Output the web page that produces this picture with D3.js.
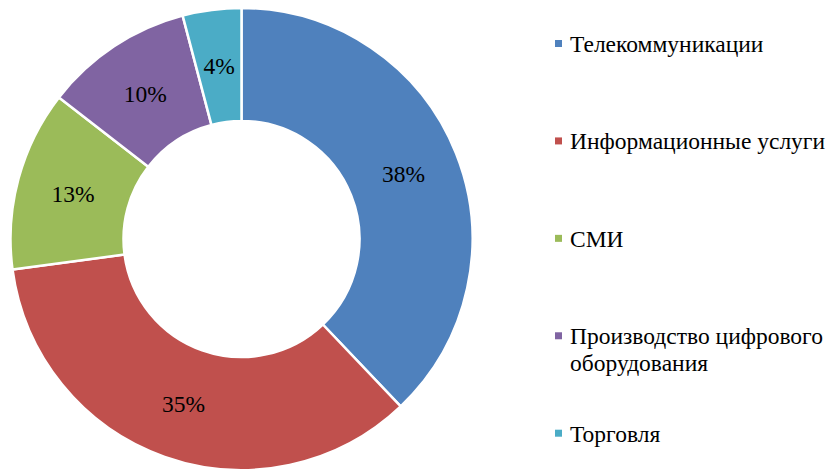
<!DOCTYPE html>
<html><head><meta charset="utf-8">
<script src="https://cdn.jsdelivr.net/npm/d3@7"></script>
</head><body style="margin:0;background:#fff">
<svg id="chart" width="832" height="470" style="display:block"></svg>
<script>
const categories = ["Телекоммуникации", "Информационные услуги", "СМИ", "Производство цифрового оборудования", "Торговля"];
const legendLines = [["Телекоммуникации"], ["Информационные услуги"], ["СМИ"], ["Производство цифрового", "оборудования"], ["Торговля"]];
const values = [37.9, 35.0, 12.6, 10.4, 4.1];
const valueLabels = ["38%", "35%", "13%", "10%", "4%"];
const colors = ["#4F81BD", "#C0504D", "#9BBB59", "#8064A2", "#4BACC6"];

const svg = d3.select("#chart");
const preloadFonts = ["Liberation Serif", "DejaVu Serif", "Times New Roman", "serif", "Noto Serif", "Tinos"];
const pre = svg.append("g").attr("opacity", 0);
preloadFonts.forEach((f, i) => {
  pre.append("text").attr("x", 0).attr("y", 20 + i * 20).attr("font-size", 23)
    .style("font-family", `"${f}"`).text("Tт 38%");
});

const cx = 241.5, cy = 239, rOuter = 231, rInner = 118;
const font = '"Liberation Serif", "Times New Roman", Tinos, serif';

const pie = d3.pie().sort(null).value(d => d)(values);
const arc = d3.arc().innerRadius(rInner).outerRadius(rOuter);
const color = d3.scaleOrdinal().domain(categories).range(colors);

const g = svg.append("g").attr("transform", `translate(${cx},${cy})`);
g.selectAll("path").data(pie).join("path")
  .attr("d", arc)
  .attr("fill", (d, i) => color(categories[i]))
  .attr("stroke", "#fff").attr("stroke-width", 2.5).attr("stroke-linejoin", "round");

g.selectAll("text").data(pie).join("text")
  .attr("transform", d => `translate(${arc.centroid(d)})`)
  .attr("text-anchor", "middle").attr("dy", "0.35em")
  .attr("font-size", 23.5).style("font-family", font).attr("fill", "#000")
  .text((d, i) => valueLabels[i]);

const legendY = d3.scalePoint().domain(categories).range([52, 441.7]);
const lg = svg.append("g");
categories.forEach((c, i) => {
  const y = legendY(c);
  lg.append("rect").attr("x", 555).attr("y", y - 12).attr("width", 7).attr("height", 7).attr("fill", color(c));
  const t = lg.append("text").attr("x", 570).attr("y", y)
    .attr("font-size", 23.5).style("font-family", font).attr("fill", "#000");
  legendLines[i].forEach((l, j) => {
    t.append("tspan").attr("x", 570).attr("dy", j === 0 ? 0 : 27).text(l);
  });
});
</script>
</body></html>
